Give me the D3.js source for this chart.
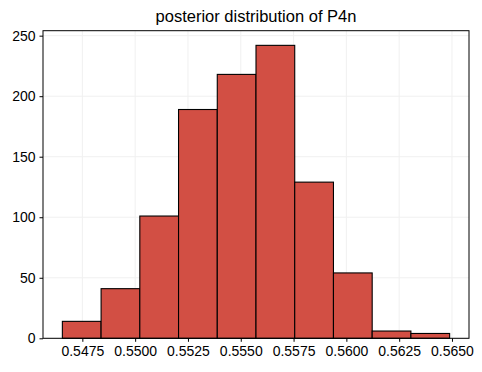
<!DOCTYPE html>
<html>
<head>
<meta charset="utf-8">
<script src="https://cdn.jsdelivr.net/npm/d3@7"></script>
<style>
  body { margin: 0; background: #fff; }
  svg text { font-family: "Liberation Sans", Arial, sans-serif; fill: #000; }
</style>
</head>
<body>
<div id="chart"></div>
<script>
// histogram of the posterior samples, 10 bins
var binStart = 0.546554
var binEnd = 0.564889
var counts = [14, 41, 101, 189, 218, 242, 129, 54, 6, 4]
var xTicks = [0.5475, 0.5500, 0.5525, 0.5550, 0.5575, 0.5600, 0.5625, 0.5650]
var yTicks = [0, 50, 100, 150, 200, 250]
var title = "posterior distribution of P4n"

var W = 482, H = 372
var margin = {top: 30.7, right: 13, bottom: 33.7, left: 43}
var width = W - margin.left - margin.right
var height = H - margin.top - margin.bottom

var binW = (binEnd - binStart) / counts.length
var bins = counts.map(function(c, i) {
  return {x0: binStart + i * binW, x1: binStart + (i + 1) * binW, n: c}
})

var pad = (binEnd - binStart) * 0.05
var xScale = d3.scaleLinear()
  .domain([binStart - pad, binEnd + pad])
  .range([0, width])

var yScale = d3.scaleLinear()
  .domain([0, d3.max(counts) * 1.05])
  .range([height, 0])

var svg = d3.select("#chart").append("svg")
    .attr("width", W)
    .attr("height", H)
  .append("g")
    .attr("transform", "translate(" + margin.left + "," + margin.top + ")")

// grid
svg.append("g").selectAll("line.vg")
  .data(xTicks)
  .enter().append("line")
    .attr("x1", function(d) { return xScale(d) })
    .attr("x2", function(d) { return xScale(d) })
    .attr("y1", 0).attr("y2", height)
    .attr("stroke", "#f0f0f0").attr("stroke-width", 1)

svg.append("g").selectAll("line.hg")
  .data(yTicks)
  .enter().append("line")
    .attr("x1", 0).attr("x2", width)
    .attr("y1", function(d) { return yScale(d) })
    .attr("y2", function(d) { return yScale(d) })
    .attr("stroke", "#f0f0f0").attr("stroke-width", 1)

// bars
svg.append("g").selectAll("rect")
  .data(bins)
  .enter().append("rect")
    .attr("x", function(d) { return xScale(d.x0) })
    .attr("y", function(d) { return yScale(d.n) })
    .attr("width", function(d) { return xScale(d.x1) - xScale(d.x0) })
    .attr("height", function(d) { return yScale(0) - yScale(d.n) })
    .attr("fill", "#d24f44")
    .attr("stroke", "#000")
    .attr("stroke-width", 1.1)

// frame
svg.append("rect")
  .attr("x", 0).attr("y", 0)
  .attr("width", width).attr("height", height)
  .attr("fill", "none").attr("stroke", "#000").attr("stroke-width", 1)

var xAxis = svg.append("g")
  .attr("transform", "translate(0," + height + ")")
  .call(d3.axisBottom(xScale).tickValues(xTicks).tickFormat(d3.format(".4f")).tickSize(3.5).tickPadding(4))
var yAxis = svg.append("g")
  .call(d3.axisLeft(yScale).tickValues(yTicks).tickFormat(d3.format("d")).tickSize(3.5).tickPadding(4))

;[xAxis, yAxis].forEach(function(a) {
  a.select(".domain").remove()
  a.selectAll("line").attr("stroke", "#000")
  a.selectAll("text").attr("font-size", 14).attr("font-family", "Liberation Sans, Arial, sans-serif")
})

svg.append("text")
  .attr("x", width / 2)
  .attr("y", -8.5)
  .attr("text-anchor", "middle")
  .attr("font-size", 16.5)
  .text(title)
</script>
</body>
</html>
